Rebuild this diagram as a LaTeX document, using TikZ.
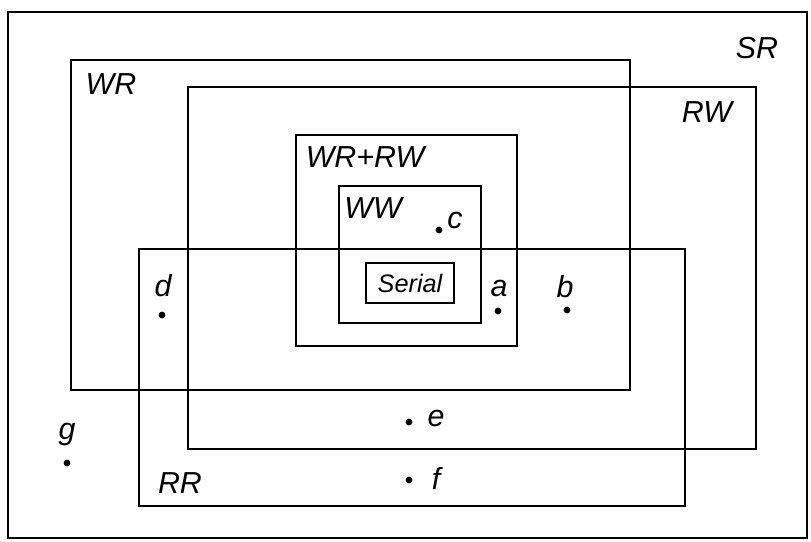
\documentclass[tikz,border=0pt]{standalone}
\usepackage{fontspec}
\setmainfont{Liberation Sans}
\usepackage{tikz}

\begin{document}
\begin{tikzpicture}[x=0.02cm, y=-0.02cm, line width=1.3pt,
		klasse/.style={font=\LARGE\itshape, inner sep=1pt},
		punkt/.style={font=\LARGE\itshape, inner sep=1pt}]
			\useasboundingbox (0,0) rectangle (811,541);
			
			% Die Rahmen der Klassen
			\draw (8,12) rectangle (807,538);    % SR
			\draw (71,60) rectangle (630,390);   % WR
			\draw (188,87) rectangle (756,449);  % RW
			\draw (139,249) rectangle (685,506); % RR
			\draw (296,135) rectangle (517,346); % WR+RW
			\draw (339,186) rectangle (481,323); % WW
			
			% Beschriftungen der Rahmen
			\node[klasse] (sr) at (757,48) {SR};
			\node[klasse] (wr) at (111,84) {WR};
			\node[klasse] (rw) at (707,112) {RW};
			\node[klasse] (wrrw) at (365,157) {WR+RW};
			\node[klasse] (ww) at (373,208) {WW};
			\node[klasse] (rr) at (180,483) {RR};
			
			% Innerster Kasten
			\node[draw, line width=1.1pt, font=\Large\itshape, minimum width=1.76cm, minimum height=0.8cm, inner sep=2pt] (serial) at (410,283) {Serial};
			
			% Die Punkte a bis g
			\fill (439,230) circle (3.4);
			\node[punkt] (c) at (455,220) {c};
			\fill (162,315) circle (3.4);
			\node[punkt] (d) at (163,286) {d};
			\fill (498,311) circle (3.4);
			\node[punkt] (a) at (499,288) {a};
			\fill (567,310) circle (3.4);
			\node[punkt] (b) at (565,287) {b};
			\fill (409,422) circle (3.4);
			\node[punkt] (e) at (436,418) {e};
			\fill (409,480) circle (3.4);
			\node[punkt] (f) at (436,478) {f};
			\fill (67,463) circle (3.4);
			\node[punkt] (g) at (67,434) {g};
			
\end{tikzpicture}
\end{document}
